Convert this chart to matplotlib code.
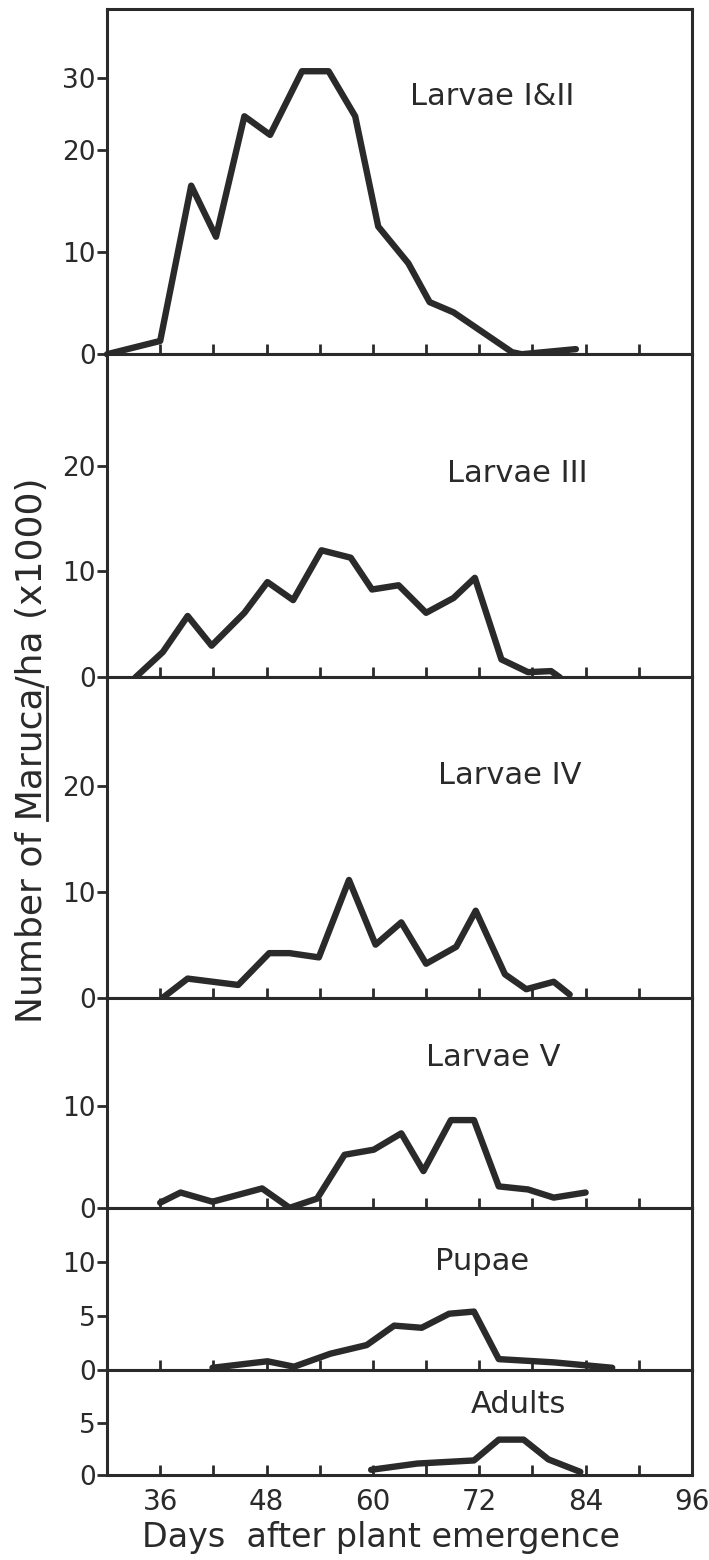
import matplotlib
matplotlib.use("Agg")
import matplotlib.pyplot as plt
from matplotlib.lines import Line2D
import numpy as np

plt.rcParams['font.family'] = 'DejaVu Sans'

ink = '#2a2a2a'

# days after plant emergence / thousands of Maruca per ha, one pair per stage
days_l12 = [30, 36, 39.5, 42.3, 45.5, 48.4, 52, 55, 58, 60.6, 64, 66.4, 69.1, 75.7, 76.8, 82.9]
count_l12 = [0, 1.3, 16.5, 11.5, 24.7, 22.1, 31, 31, 24.7, 12.5, 8.9, 5.1, 4.1, 0.2, 0, 0.5]

days_l3 = [33.2, 36.3, 39.1, 41.8, 45.5, 48.1, 51, 54.2, 57.5, 59.9, 62.9, 66, 69.1, 71.5, 74.5, 77.5, 80.1, 81.1]
count_l3 = [0, 2.4, 5.8, 3.0, 6.1, 9.0, 7.3, 12.0, 11.3, 8.3, 8.7, 6.1, 7.5, 9.4, 1.7, 0.5, 0.6, 0]

days_l4 = [36.3, 39.1, 44.8, 48.3, 50.6, 53.9, 57.3, 60.3, 63.2, 66, 69.4, 71.6, 74.9, 77.3, 80.4, 82.2]
count_l4 = [0, 1.8, 1.2, 4.2, 4.2, 3.8, 11.1, 5.0, 7.1, 3.2, 4.8, 8.2, 2.2, 0.8, 1.5, 0.3]

days_l5 = [36, 38.3, 41.9, 47.5, 50.6, 53.7, 56.8, 60.1, 63.2, 65.7, 68.8, 71.4, 74.2, 77.5, 80.4, 84]
count_l5 = [0.5, 1.5, 0.6, 1.9, 0, 0.9, 5.2, 5.7, 7.3, 3.6, 8.6, 8.6, 2.1, 1.8, 1.0, 1.5]

days_pup = [41.9, 48.1, 51.1, 55.2, 59.3, 62.4, 65.5, 68.6, 71.4, 74.2, 80.4, 87]
count_pup = [0.2, 0.8, 0.3, 1.5, 2.3, 4.1, 3.9, 5.2, 5.4, 1.0, 0.7, 0.2]

days_adu = [59.8, 65, 71.4, 74.2, 77, 79.8, 83.4]
count_adu = [0.5, 1.1, 1.4, 3.4, 3.4, 1.5, 0.3]

stages = ['Larvae I&II', 'Larvae III', 'Larvae IV', 'Larvae V', 'Pupae', 'Adults']
series = [(days_l12, count_l12), (days_l3, count_l3), (days_l4, count_l4),
          (days_l5, count_l5), (days_pup, count_pup), (days_adu, count_adu)]
ytick_sets = [[0, 10, 20, 30], [0, 10, 20], [0, 10, 20], [0, 10], [0, 5, 10], [0, 5]]
ylims = [39.7, 30.5, 30.2, 20.6, 15, 10.1]
label_pos = [(73.5, 27.5), (76.3, 19.2), (75.4, 21.0), (73.6, 14.7), (72.3, 10.0), (76.4, 6.8)]

# the hand-drawn top axis is squeezed above 20
knot_val = [-50, 0, 20, 30, 100]
knot_pos = [-50, 0, 20, 27, 76]
def squeeze(v):
    return np.interp(v, knot_val, knot_pos)
def unsqueeze(p):
    return np.interp(p, knot_pos, knot_val)

fig = plt.figure(figsize=(7.09, 15.6), dpi=100)
gs = fig.add_gridspec(6, 1, height_ratios=[345, 323, 320, 210, 162, 105], hspace=0,
                      left=107/709, right=692/709, top=1-9/1560, bottom=1-1475/1560)

for i in range(6):
    ax = fig.add_subplot(gs[i])
    x, y = series[i]
    if i == 0:
        ax.set_yscale('function', functions=(squeeze, unsqueeze))
    ax.plot(x, y, color=ink, lw=4.6, solid_joinstyle='round', solid_capstyle='round', clip_on=False)
    ax.set_xlim(30, 96)
    ax.set_ylim(0, ylims[i])
    ax.set_yticks(ytick_sets[i])
    ax.set_yticklabels([str(t) for t in ytick_sets[i]])
    ax.yaxis.set_minor_locator(plt.NullLocator())
    ax.set_xticks([36, 48, 60, 72, 84, 96])
    ax.set_xticks([42, 54, 66, 78, 90], minor=True)
    ax.tick_params(axis='x', which='both', direction='in', length=7, width=2, color=ink,
                   top=False, labelsize=20, pad=9, labelcolor=ink)
    ax.tick_params(axis='y', direction='out', length=7, width=2, color=ink,
                   labelsize=19, pad=1, labelcolor=ink)
    if i < 5:
        ax.tick_params(axis='x', labelbottom=False)
    for s in ax.spines.values():
        s.set_linewidth(2.2)
        s.set_color(ink)
    lx, ly = label_pos[i]
    ax.text(lx, ly, stages[i], fontsize=22, color=ink, ha='center', va='center')

# y label with the genus underlined
head, genus, tail = 'Number of ', 'Maruca', '/ha (x1000)'
ylab_size = 26
ylab_x, ylab_y = 32, 1560 - 750
fig.text(ylab_x / 709, ylab_y / 1560, head + genus + tail, rotation=90, fontsize=ylab_size,
         color=ink, ha='center', va='center')
fig.canvas.draw()
renderer = fig.canvas.get_renderer()
def text_len(s):
    t = fig.text(0, 0, s, fontsize=ylab_size)
    w = t.get_window_extent(renderer).width
    t.remove()
    return w
total = text_len(head + genus + tail)
start = ylab_y - total / 2 + text_len(head)
stop = start + text_len(genus)
ul_x = (ylab_x + 15) / 709
fig.add_artist(Line2D([ul_x, ul_x], [start / 1560, stop / 1560], color=ink, lw=2,
                      transform=fig.transFigure))

fig.text(381/709, 1 - 1538/1560, 'Days  after plant emergence', fontsize=24, color=ink,
         ha='center', va='center')

fig.savefig('out.png', dpi=100)
